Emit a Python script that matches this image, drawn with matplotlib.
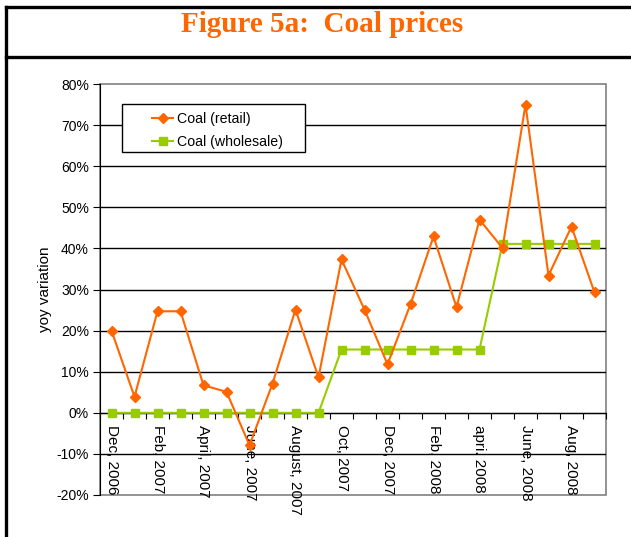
import numpy as np
import matplotlib
matplotlib.use("Agg")
import matplotlib.pyplot as plt
from matplotlib.ticker import FuncFormatter, FixedLocator
from matplotlib.patches import Rectangle
from matplotlib.lines import Line2D

plt.rcParams['font.family'] = ['Liberation Sans', 'DejaVu Sans']

### Data (yoy variation, fraction)
months = ["Dec, 2006", "Jan, 2007", "Feb, 2007", "Mar, 2007", "April, 2007", "May, 2007",
          "June, 2007", "July, 2007", "August, 2007", "Sep, 2007", "Oct, 2007", "Nov, 2007",
          "Dec, 2007", "Jan, 2008", "Feb, 2008", "Mar, 2008", "apri. 2008", "May, 2008",
          "June, 2008", "July, 2008", "Aug, 2008", "Sep, 2008"]
retail = [0.200, 0.039, 0.247, 0.247, 0.067, 0.051, -0.079, 0.071, 0.251, 0.086, 0.373,
          0.251, 0.118, 0.264, 0.429, 0.257, 0.470, 0.401, 0.750, 0.334, 0.453, 0.293]
wholesale = [0.0, 0.0, 0.0, 0.0, 0.0, 0.0, 0.0, 0.0, 0.0, 0.0, 0.154,
             0.154, 0.154, 0.154, 0.154, 0.154, 0.154, 0.411, 0.411, 0.411, 0.411, 0.411]

W, H = 631, 537
fig = plt.figure(figsize=(W / 100, H / 100), dpi=100)

# outer frame / title box
def fx(px):
    return px / W

def fy(py):
    return 1 - py / H

for seg in [([6, 6], [7, H + 5]), ([6, W + 5], [7, 7]), ([6, W + 5], [57, 57])]:
    fig.add_artist(Line2D([fx(v) for v in seg[0]], [fy(v) for v in seg[1]],
                          color="black", lw=2.4, transform=fig.transFigure))
fig.text(fx(322), fy(25), "Figure 5a:  Coal prices", ha="center", va="center",
         fontsize=21, fontweight="bold", color="#FF6600",
         family=["Liberation Serif", "DejaVu Serif"])

ax = fig.add_axes([fx(100), fy(495), fx(606) - fx(100), fy(84) - fy(495)])
x = np.arange(len(months))

ax.plot(x, retail, color="#FF6600", lw=1.5, marker="D", markersize=5,
        label="Coal (retail)", zorder=4)
ax.plot(x, wholesale, color="#99CC00", lw=1.5, marker="s", markersize=6,
        label="Coal (wholesale)", zorder=3)

ax.set_xlim(-0.5, len(months) - 0.5)
ax.set_ylim(-0.2, 0.8)

# gridlines
yt = np.arange(-0.2, 0.81, 0.1)
ax.set_yticks(yt)
ax.yaxis.set_major_formatter(FuncFormatter(lambda v, p: "%d%%" % round(v * 100)))
for v in yt[1:-1]:
    ax.axhline(v, color="black", lw=1.0, zorder=1)

# plot area frame
for s in ["top", "right"]:
    ax.spines[s].set_visible(False)
ax.spines["left"].set_color("black")
ax.add_patch(Rectangle((0, 0), 1, 1, transform=ax.transAxes, fill=False,
                       edgecolor="#808080", lw=1.2, clip_on=False, zorder=0))
ax.spines["bottom"].set_position(("data", 0))
ax.spines["bottom"].set_color("black")

# category axis: ticks between categories, labels every second category
ax.xaxis.set_major_locator(FixedLocator(np.arange(-0.5, len(months), 1.0)))
ax.xaxis.set_minor_locator(FixedLocator(x[::2]))
ax.set_xticklabels([], minor=False)
ax.set_xticklabels(months[::2], minor=True, rotation=270, fontsize=11,
                   va="top", ha="center")
ax.tick_params(axis="x", which="major", length=4, direction="out", color="black")
ax.tick_params(axis="x", which="minor", length=0, pad=9)
ax.tick_params(axis="y", length=5, direction="out", labelsize=10, pad=3)

ax.set_ylabel("yoy variation", fontsize=11, labelpad=3)

# legend: Excel style box with wide margins
ax.add_patch(Rectangle((fx(122), fy(152)), fx(305) - fx(122), fy(104) - fy(152),
                       transform=fig.transFigure, facecolor="white", clip_on=False,
                       edgecolor="black", lw=1.0, zorder=9))
leg = ax.legend(loc="upper left", bbox_to_anchor=(fx(147), fy(107)),
                bbox_transform=fig.transFigure, fontsize=10.2, frameon=False,
                borderaxespad=0, handlelength=1.5, borderpad=0.35,
                labelspacing=0.62, handletextpad=0.3)
leg.set_zorder(10)

fig.savefig("out.png", dpi=100)
